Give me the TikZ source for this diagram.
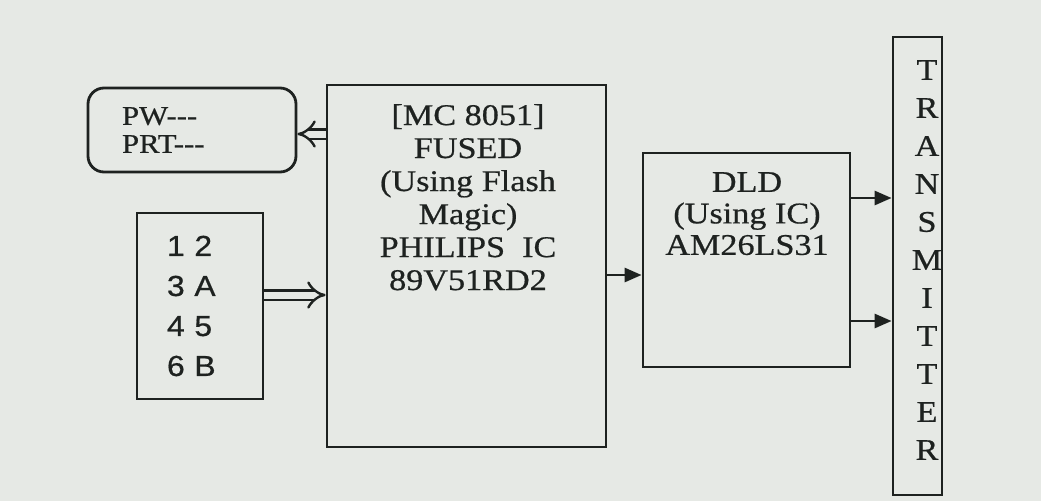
\documentclass[tikz,border=0pt]{standalone}
\usepackage{fontspec}
\setmainfont{Liberation Serif}[FakeStretch=1.14, FakeBold=0.6]
\newfontfamily\digitfont{Liberation Sans}[FakeStretch=1.1, FakeBold=0.6]
\usetikzlibrary{arrows.meta}
\definecolor{paper}{RGB}{230,233,229}
\definecolor{ink}{RGB}{30,34,32}
\tikzset{
  box/.style={draw=ink, line width=2.8pt, inner sep=0pt, text=ink},
  txt/.style={text=ink, inner sep=0pt, align=center, font=\fontsize{30}{33}\selectfont},
  arr/.style={draw=ink, line width=2.8pt, -{Triangle[length=17pt,width=14pt]}},
  dblarr/.style={draw=ink, line width=2.4pt, double=paper, double distance=7pt, -{Implies[length=9pt]}},
}
\begin{document}
\begin{tikzpicture}[x=1pt,y=-1pt]
\fill[paper] (0,0) rectangle (1041,501);
\useasboundingbox (0,0) rectangle (1041,501);

% PW box
\node[box, rounded corners=16pt, minimum width=208pt, minimum height=84pt,
      text width=140pt, align=left, inner xsep=34pt,
      font=\fontsize{27}{28}\selectfont] (pw) at (192,130) {PW{-}{-}{-}\\PRT{-}{-}{-}};

% digits box
\node[box, minimum width=126pt, minimum height=186pt, text width=66pt,
      align=left, inner xsep=30pt, font=\digitfont\fontsize{29}{40}\selectfont]
      (dig) at (200,306) {1 2\\3 A\\4 5\\6 B};

% MC box
\node[box, minimum width=279pt, minimum height=362pt] (mc) at (466.5,266) {};
\node[txt, anchor=north] (mctext) at (468,104)
  {[MC 8051]\\FUSED\\(Using Flash\\Magic)\\PHILIPS\ \ IC\\89V51RD2};

% DLD box
\node[box, minimum width=207pt, minimum height=214pt] (dld) at (746.5,260) {};
\node[txt, anchor=north, font=\fontsize{30}{31.5}\selectfont] (dldtext) at (747,172)
  {DLD\\(Using IC)\\AM26LS31};

% Transmitter box
\node[box, minimum width=49pt, minimum height=458pt] (tx) at (917.5,266) {};
\foreach \l [count=\i] in {T,R,A,N,S,M,I,T,T,E,R}{
  \node[txt] (tx\i) at (927,{70+(\i-1)*38}) {\l};
}

% connectors
\coordinate (pwin) at (pw.east |- 0,134);
\coordinate (mcout1) at (mc.west |- 0,134);
\draw[dblarr] (mcout1) -- (pwin);

\coordinate (digout) at (dig.east |- 0,295);
\coordinate (mcin) at (mc.west |- 0,295);
\draw[dblarr] (digout) -- (mcin);

\coordinate (mcout2) at (mc.east |- 0,275);
\coordinate (dldin) at (dld.west |- 0,275);
\draw[arr] (mcout2) -- (dldin);

\coordinate (dldo1) at (dld.east |- 0,198);
\coordinate (txi1) at (tx.west |- 0,198);
\draw[arr] (dldo1) -- (txi1);

\coordinate (dldo2) at (dld.east |- 0,321);
\coordinate (txi2) at (tx.west |- 0,321);
\draw[arr] (dldo2) -- (txi2);
\end{tikzpicture}
\end{document}
